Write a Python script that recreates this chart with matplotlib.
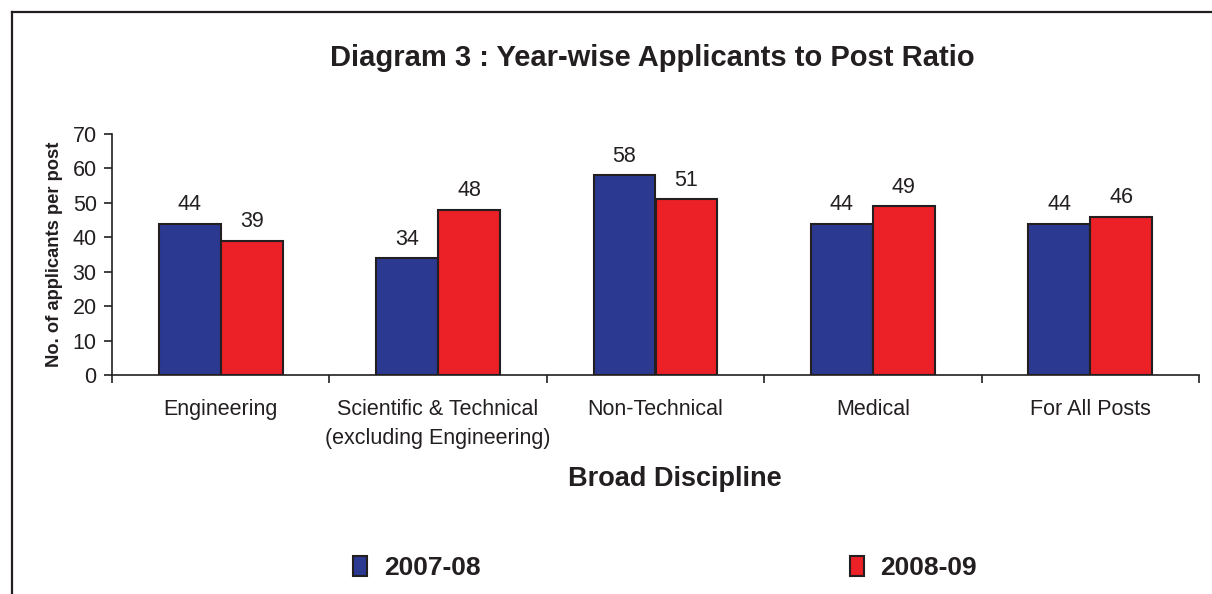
import numpy as np
import matplotlib
matplotlib.use('Agg')
import matplotlib.pyplot as plt
from matplotlib.lines import Line2D

# Data
categories = ['Engineering', 'Scientific & Technical\n(excluding Engineering)',
              'Non-Technical', 'Medical', 'For All Posts']
years = ['2007-08', '2008-09']
ratio_2007 = [44, 34, 58, 44, 44]
ratio_2008 = [39, 48, 51, 49, 46]

plt.rcParams['font.family'] = ['Liberation Sans', 'DejaVu Sans']
text_color = '#231F20'

fig = plt.figure(figsize=(12.12, 5.94), dpi=100)
ax = fig.add_axes([112 / 1212, 1 - 375 / 594, (1199 - 112) / 1212, (375 - 134) / 594])

x = np.arange(len(categories))
width = 0.285
bars1 = ax.bar(x - width / 2, ratio_2007, width, color='#2B3990',
               edgecolor=text_color, linewidth=1.5, label=years[0])
bars2 = ax.bar(x + width / 2, ratio_2008, width, color='#EC2027',
               edgecolor=text_color, linewidth=1.5, label=years[1])

for bars in (bars1, bars2):
    for b in bars:
        ax.annotate(str(int(b.get_height())),
                    (b.get_x() + b.get_width() / 2, b.get_height()),
                    xytext=(0, 6), textcoords='offset points',
                    ha='center', va='bottom', fontsize=15.5, color=text_color)

ax.set_xlim(-0.5, len(categories) - 0.5)
ax.set_ylim(0, 70)
ax.set_yticks(range(0, 71, 10))
ax.tick_params(axis='y', labelsize=15.5, length=6, width=1.2, colors=text_color, pad=5)

# category boundaries carry the x ticks, labels sit in between
ax.set_xticks(np.arange(-0.5, len(categories), 1.0))
ax.set_xticklabels([])
ax.set_xticks(x, minor=True)
ax.set_xticklabels(categories, minor=True, fontsize=15.5, color=text_color,
                   linespacing=1.55)
ax.tick_params(axis='x', which='major', length=6, width=1.2, colors=text_color)
ax.tick_params(axis='x', which='minor', length=0, pad=17)

for side in ('top', 'right'):
    ax.spines[side].set_visible(False)
for side in ('left', 'bottom'):
    ax.spines[side].set_linewidth(1.2)
    ax.spines[side].set_color(text_color)

ax.set_ylabel('No. of applicants per post', fontsize=13.2, fontweight='bold',
              color=text_color, labelpad=7)
ax.set_xlabel('Broad Discipline', fontsize=19.5, fontweight='bold',
              color=text_color, labelpad=12, x=(675 - 112) / 1087)

fig.text(652 / 1212, 1 - 58 / 594, 'Diagram 3 : Year-wise Applicants to Post Ratio',
         ha='center', va='center', fontsize=21, fontweight='bold', color=text_color)

fig.legend(loc='center', bbox_to_anchor=(665 / 1212, 1 - 568 / 594), ncol=2,
           frameon=False, prop={'weight': 'bold', 'size': 19},
           handlelength=0.53, handleheight=0.76, handletextpad=0.64,
           columnspacing=14.0, labelcolor=text_color)

# outer frame (left and top edges only visible)
fig.add_artist(Line2D([12 / 1212, 12 / 1212], [0, 1 - 12 / 594],
                      transform=fig.transFigure, color=text_color, linewidth=1.6))
fig.add_artist(Line2D([12 / 1212, 1], [1 - 12 / 594, 1 - 12 / 594],
                      transform=fig.transFigure, color=text_color, linewidth=1.6))

plt.savefig('out.png', dpi=100)
